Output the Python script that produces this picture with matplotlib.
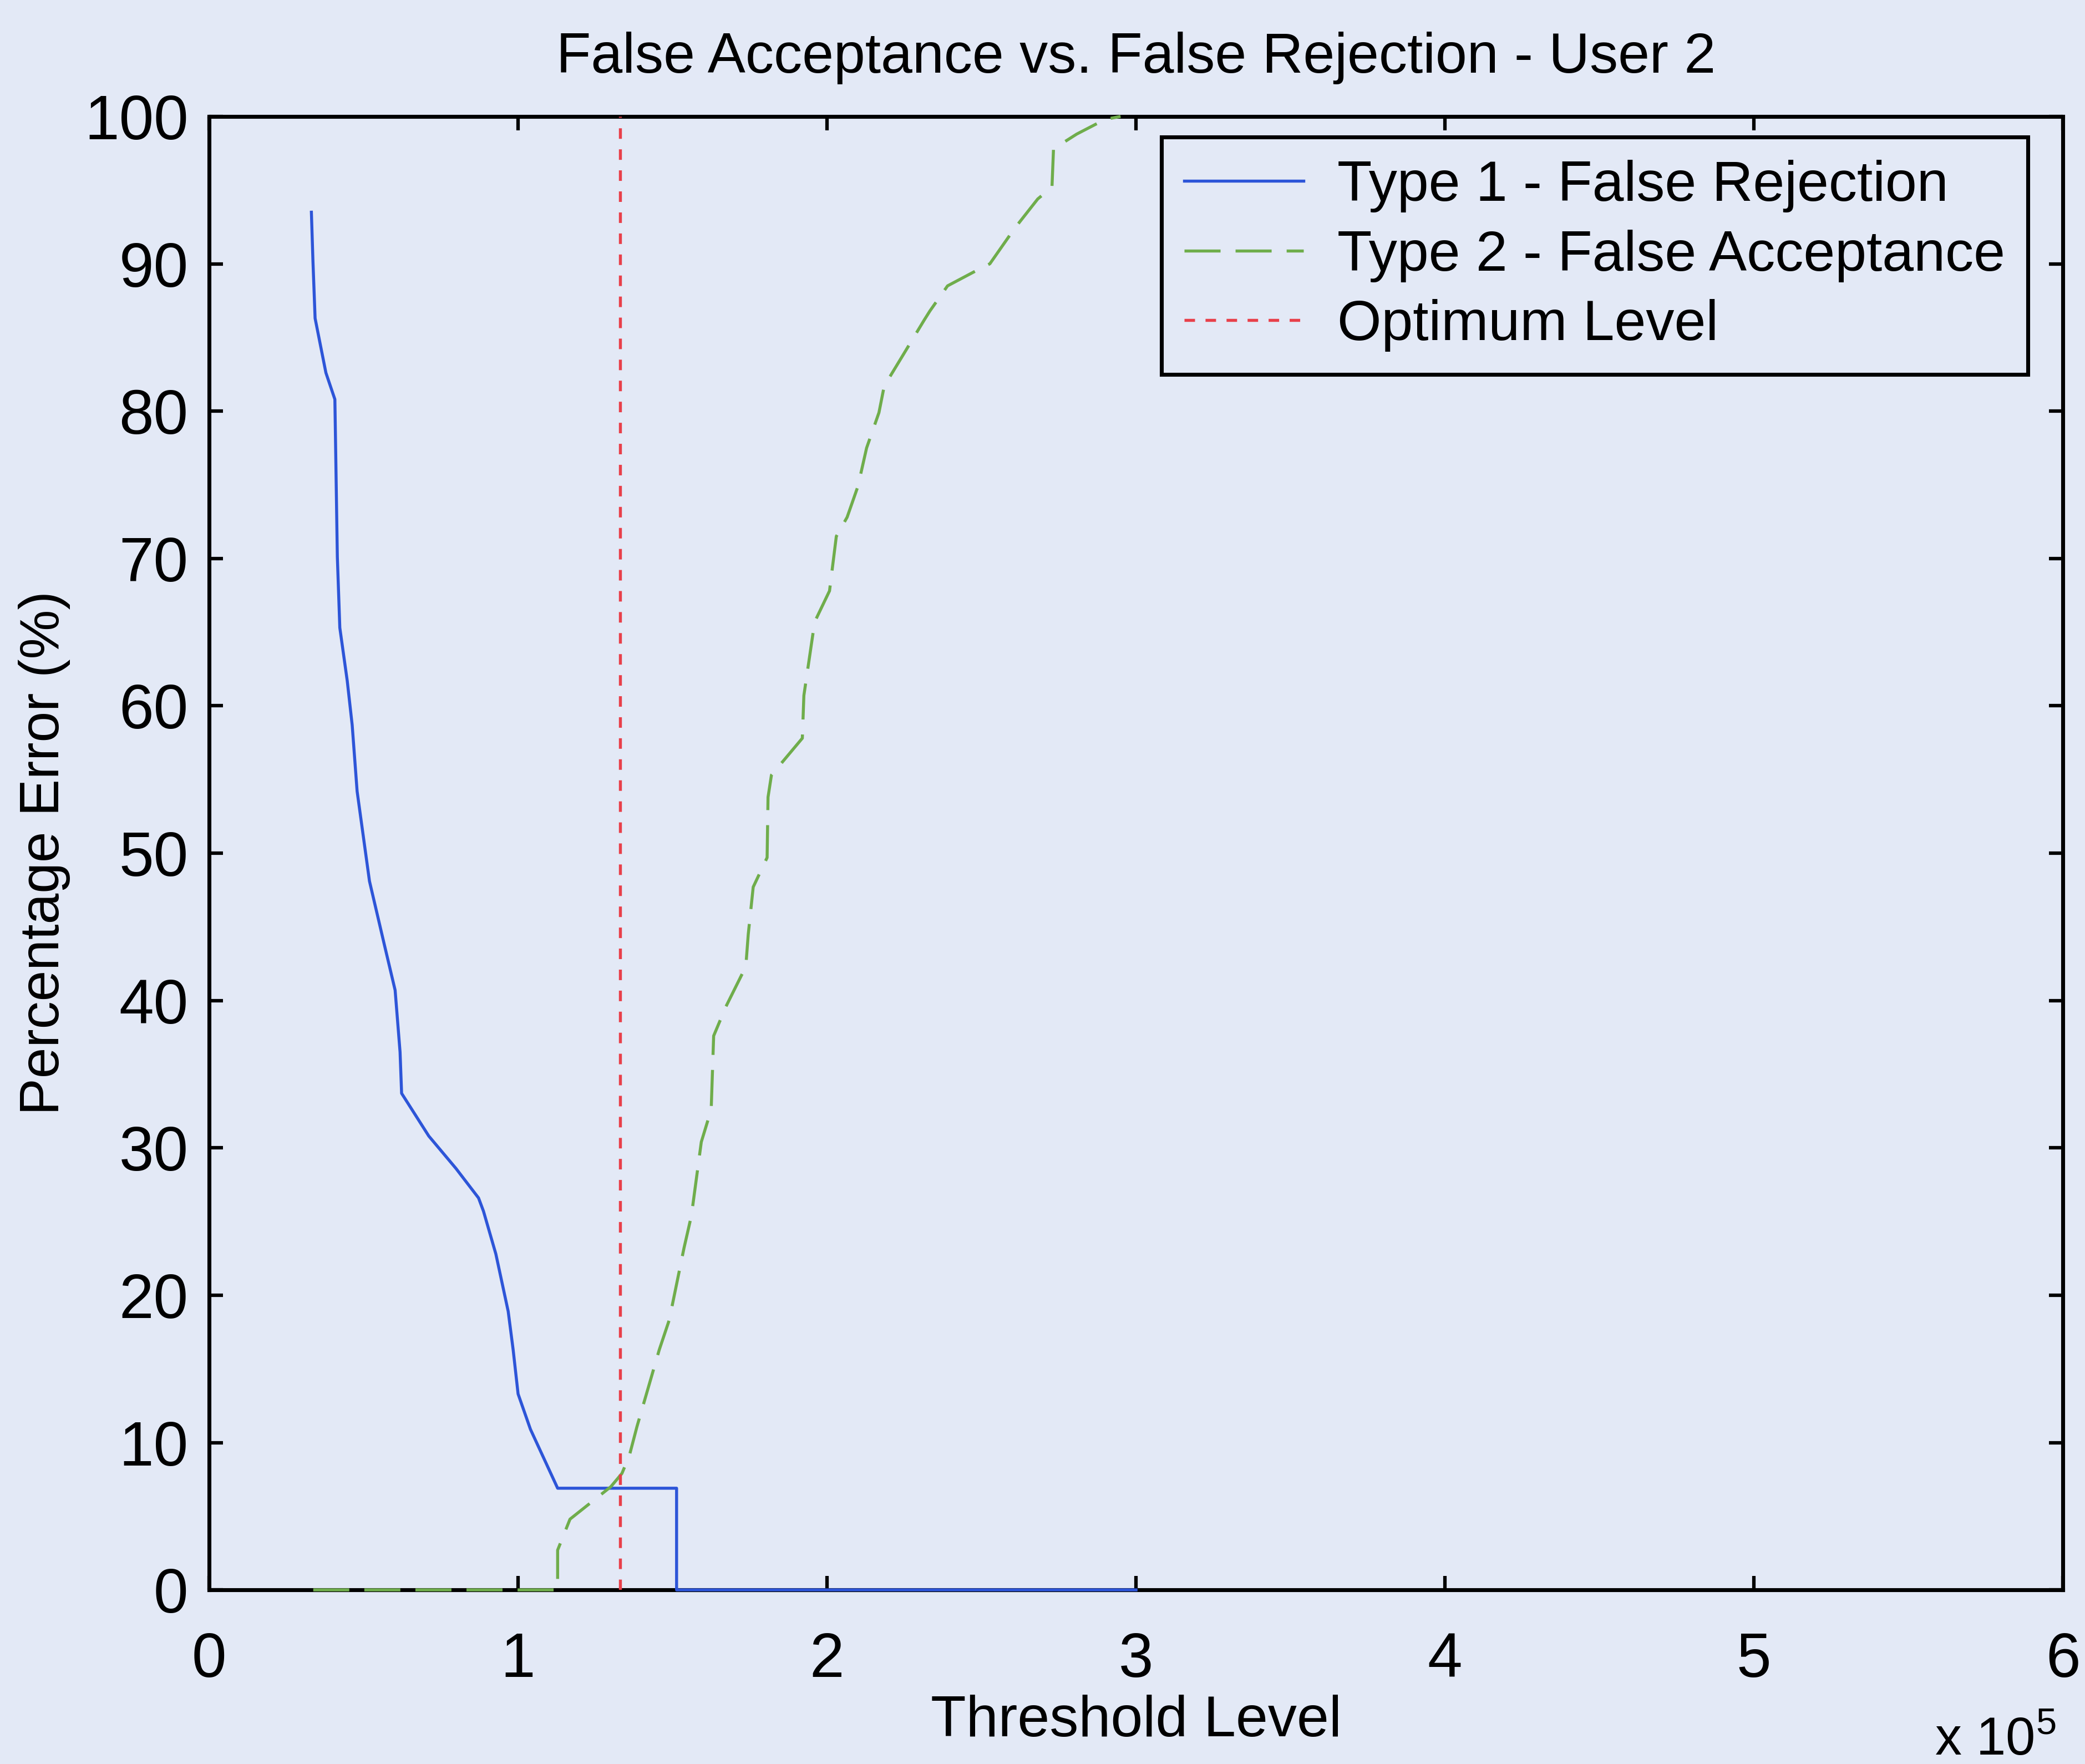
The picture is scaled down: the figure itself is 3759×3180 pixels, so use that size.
import matplotlib
matplotlib.use("Agg")
import matplotlib.pyplot as plt

# threshold values are in units of 1e5
blue_x = [0.331, 0.336, 0.343, 0.378, 0.407, 0.415, 0.423, 0.447, 0.463, 0.479,
          0.519, 0.567, 0.602, 0.618, 0.623, 0.711, 0.799, 0.872, 0.888, 0.928,
          0.968, 0.984, 1.0, 1.04, 1.128, 1.513, 1.513, 3.0]
blue_y = [93.5, 90.2, 86.3, 82.6, 80.8, 70.1, 65.3, 61.7, 58.7, 54.2,
          48.1, 43.8, 40.7, 36.5, 33.7, 30.8, 28.6, 26.6, 25.7, 22.8,
          18.9, 16.3, 13.3, 10.9, 6.9, 6.9, 0.0, 0.0]

green_x = [0.337, 1.128, 1.128, 1.168, 1.30, 1.336, 1.36, 1.385, 1.457, 1.489,
           1.537, 1.561, 1.593, 1.625, 1.633, 1.673, 1.737, 1.745, 1.761, 1.806,
           1.809, 1.82, 1.92, 1.925, 1.96, 2.008, 2.03, 2.065, 2.10, 2.128,
           2.168, 2.185, 2.24, 2.315, 2.333, 2.39, 2.48, 2.527, 2.607, 2.682,
           2.728, 2.733, 2.808, 2.90, 2.95]
green_y = [0.0, 0.0, 2.7, 4.8, 7.0, 7.9, 9.1, 11.1, 16.3, 18.3,
           23.2, 25.4, 30.4, 32.6, 37.6, 39.6, 42.3, 44.5, 47.7, 49.7,
           53.8, 55.3, 57.8, 60.7, 65.7, 67.8, 71.5, 72.8, 74.9, 77.5,
           79.9, 81.7, 83.6, 86.2, 86.8, 88.5, 89.5, 90.0, 92.4, 94.4,
           95.2, 97.8, 98.8, 99.8, 100.0]

opt_level = 1.33
x_ticks = [0, 1, 2, 3, 4, 5, 6]
y_ticks = [0, 10, 20, 30, 40, 50, 60, 70, 80, 90, 100]

BG = "#e3e9f6"
plt.rcParams["font.family"] = ["Liberation Sans", "DejaVu Sans"]

fig = plt.figure(figsize=(3759 / 300, 3180 / 300), dpi=300, facecolor=BG)
ax = fig.add_axes([0.1003, 0.0987, 0.8891, 0.8353])
ax.set_facecolor(BG)

ax.plot(blue_x, blue_y, color="#2d55d8", lw=1.3, zorder=3, clip_on=False,
        label="Type 1 - False Rejection")
ax.plot(green_x, green_y, color="#6fad4b", lw=1.3, zorder=3, clip_on=False,
        dashes=(12, 5), label="Type 2 - False Acceptance")
ax.plot([opt_level, opt_level], [0, 100], color="#e8404a", lw=1.3, zorder=3,
        dashes=(3.5, 3.5), label="Optimum Level")

ax.set_xlim(0, 6)
ax.set_ylim(0, 100)
ax.set_xticks(x_ticks)
ax.set_yticks(y_ticks)
ax.tick_params(direction="in", length=6, width=1.5, top=True, right=True,
               labelsize=27, colors="black")
ax.tick_params(axis="x", pad=18)
ax.tick_params(axis="y", pad=9)
for s in ax.spines.values():
    s.set_linewidth(1.7)
    s.set_color("black")

ax.set_title("False Acceptance vs. False Rejection - User 2", fontsize=24.5, pad=19)
ax.set_xlabel("Threshold Level", fontsize=25, labelpad=2)
ax.set_ylabel("Percentage Error (%)", fontsize=24, labelpad=6)
fig.text(0.957, 0.005, r"x 10$^{\mathregular{5}}$", fontsize=23, ha="center")

leg = ax.legend(loc="upper right", bbox_to_anchor=(0.981, 0.986), borderaxespad=0,
                fontsize=24.5, fancybox=False, framealpha=1, facecolor=BG,
                edgecolor="black", handlelength=2.1, handletextpad=0.6,
                labelspacing=0.3, borderpad=0.4)
leg.get_frame().set_linewidth(1.7)

fig.savefig("out.png", dpi=300, facecolor=BG)
